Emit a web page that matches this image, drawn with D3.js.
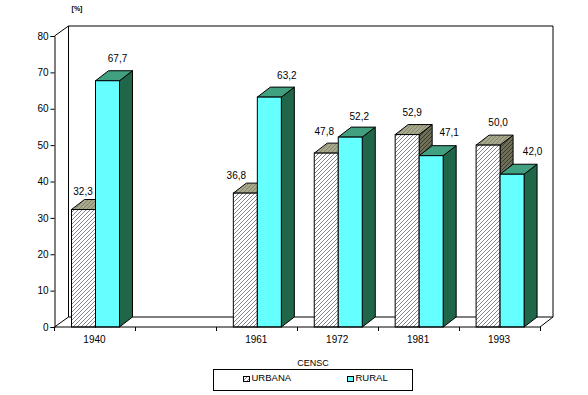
<!DOCTYPE html>
<html>
<head>
<meta charset="utf-8">
<script src="https://cdn.jsdelivr.net/npm/d3@7"></script>
<style>
  html, body { margin: 0; padding: 0; background: #fff; }
  svg { display: block; }
  text { font-family: "Liberation Sans", Arial, sans-serif; font-size: 10px; fill: #000; }
</style>
</head>
<body>
<div id="chart-area"></div>
<script>
var categories = ["1940", "", "1961", "1972", "1981", "1993"];
var seriesNames = ["URBANA", "RURAL"];
var urbana = [32.3, null, 36.8, 47.8, 52.9, 50.0];
var rural = [67.7, null, 63.2, 52.2, 47.1, 42.0];
var yTicks = [0, 10, 20, 30, 40, 50, 60, 70, 80];

var wallX = 14, depthX = 13, depthY = 10;

// The value labels were placed by hand in the original: [dx from bar left, dy above bar top]
var labelOffsets = {
  URBANA: { "1940": [11.5, 15], "1961": [3, 14], "1972": [10, 18], "1981": [17, 19], "1993": [22, 19] },
  RURAL: { "1940": [22, 18.5], "1961": [29.5, 18], "1972": [21, 17], "1981": [30, 20], "1993": [32.5, 19] }
};

var svg = d3.select("#chart-area")
  .append("svg")
  .attr("width", 588)
  .attr("height", 395);

var defs = svg.append("defs");

// diagonal hatch used by the URBANA bars
function hatch(id, bg, line) {
  var p = defs.append("pattern")
    .attr("id", id)
    .attr("width", 4)
    .attr("height", 4)
    .attr("patternUnits", "userSpaceOnUse");
  p.append("rect").attr("width", 4).attr("height", 4).attr("fill", bg);
  p.append("path")
    .attr("d", "M-1,1 L1,-1 M0,4 L4,0 M3,5 L5,3")
    .attr("stroke", line)
    .attr("stroke-width", 1)
    .attr("shape-rendering", "crispEdges");
}
hatch("hatchFront", "#ffffff", "#84848e");
hatch("hatchTop", "#a8a88c", "#84846c");
hatch("hatchSide", "#70705a", "#3c3c2c");

var x = d3.scaleBand()
  .domain(categories)
  .range([54.5, 540]);

var xInner = d3.scaleBand()
  .domain(seriesNames)
  .range([17, 65]);

var y = d3.scaleLinear()
  .domain([0, 80])
  .range([327, 36]);

var right = x.range()[1];
var left = x.range()[0];
var base = y(0);
var top80 = y(80);

// back wall and floor
var frame = svg.append("g")
  .attr("fill", "none")
  .attr("stroke", "#000")
  .attr("stroke-width", 1);

frame.append("path")
  .attr("d", "M" + (left + wallX) + "," + (base - depthY) +
    "V" + (top80 - depthY) + "H" + (right + wallX - 1) + "V" + (base - depthY) + "H" + (left + wallX));
frame.append("path")
  .attr("d", "M" + left + "," + top80 + "L" + (left + wallX) + "," + (top80 - depthY));
frame.append("path")
  .attr("d", "M" + left + "," + base + "L" + (left + wallX) + "," + (base - depthY));
frame.append("path")
  .attr("d", "M" + right + "," + base + "L" + (right + wallX - 1) + "," + (base - depthY));

// Bars
var barStyles = {
  URBANA: { front: "url(#hatchFront)", top: "url(#hatchTop)", side: "url(#hatchSide)" },
  RURAL: { front: "#66ffff", top: "#40a080", side: "#206648" }
};

function drawBar(g, category, name, value) {
  var bx = x(category) + xInner(name);
  var bw = xInner.bandwidth();
  var by = y(value);
  var style = barStyles[name];
  var bar = g.append("g")
    .attr("stroke", "#000")
    .attr("stroke-width", 1)
    .attr("stroke-linejoin", "miter");

  bar.append("path")
    .attr("fill", style.side)
    .attr("d", "M" + (bx + bw) + "," + by + "l" + depthX + "," + (-depthY) +
      "V" + (base - depthY) + "L" + (bx + bw) + "," + base + "Z");
  bar.append("path")
    .attr("fill", style.top)
    .attr("d", "M" + bx + "," + by + "l" + depthX + "," + (-depthY) +
      "h" + bw + "l" + (-depthX) + "," + depthY + "Z");
  bar.append("rect")
    .attr("x", bx)
    .attr("y", by)
    .attr("width", bw)
    .attr("height", base - by)
    .attr("fill", style.front);

  var off = labelOffsets[name][category];
  svg.select(".labels").append("text")
    .attr("x", bx + off[0])
    .attr("y", by - off[1])
    .attr("text-anchor", "middle")
    .text(value.toFixed(1).replace(".", ","));
}

var bars = svg.append("g");
svg.append("g").attr("class", "labels");

categories.forEach(function (c, i) {
  if (urbana[i] === null) return;
  drawBar(bars, c, "URBANA", urbana[i]);
  drawBar(bars, c, "RURAL", rural[i]);
});

// front floor line
svg.append("path")
  .attr("d", "M" + left + "," + base + "H" + right)
  .attr("stroke", "#000")
  .attr("fill", "none");

// Y axis
var yAxisCall = d3.axisLeft(y)
  .tickValues(yTicks)
  .tickSize(4)
  .tickPadding(2);
var yAxisGroup = svg.append("g")
  .attr("transform", "translate(" + left + ",0)")
  .call(yAxisCall);

// X axis: ticks sit between the categories
var xAxisGroup = svg.append("g");
var xTickPos = categories.map(function (c) { return x(c); }).concat([right]);
xAxisGroup.selectAll("line")
  .data(xTickPos)
  .enter()
  .append("line")
  .attr("x1", function (d) { return Math.round(d - 0.5) + 0.5; })
  .attr("x2", function (d) { return Math.round(d - 0.5) + 0.5; })
  .attr("y1", base)
  .attr("y2", base + 4)
  .attr("stroke", "#000");
xAxisGroup.selectAll("text")
  .data(categories)
  .enter()
  .append("text")
  .attr("x", function (d) { return x(d) + x.bandwidth() / 2 - 0.5; })
  .attr("y", 343)
  .attr("text-anchor", "middle")
  .text(function (d) { return d; });

// Unit label
svg.append("text")
  .attr("x", 77)
  .attr("y", 11)
  .attr("text-anchor", "middle")
  .attr("font-weight", "bold")
  .style("font-size", "7px")
  .text("[%]");

// Legend
svg.append("text")
  .attr("x", 313)
  .attr("y", 366)
  .attr("text-anchor", "middle")
  .style("font-size", "9px")
  .text("CENSC");

svg.append("rect")
  .attr("x", 213.5)
  .attr("y", 369.5)
  .attr("width", 199)
  .attr("height", 21)
  .attr("fill", "#fff")
  .attr("stroke", "#000");

var legendX = [243.5, 347.5];
var legendFill = ["url(#hatchFront)", "#66ffff"];
seriesNames.forEach(function (name, i) {
  svg.append("rect")
    .attr("x", legendX[i])
    .attr("y", 376.5)
    .attr("width", 6)
    .attr("height", 5)
    .attr("fill", legendFill[i])
    .attr("stroke", "#000");
  svg.append("text")
    .attr("x", legendX[i] + 8)
    .attr("y", 381)
    .style("font-size", "9.5px")
    .text(name);
});
</script>
</body>
</html>
